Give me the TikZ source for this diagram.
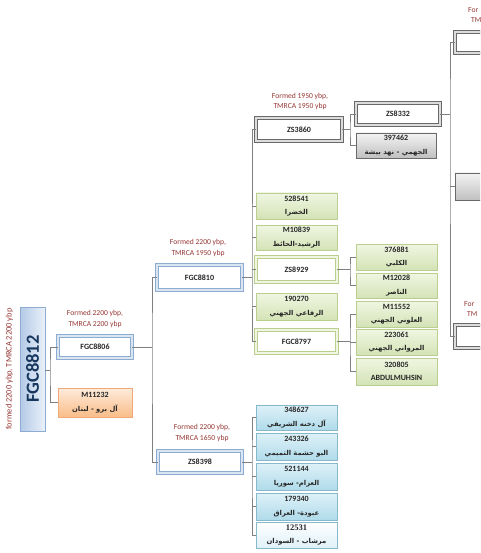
\documentclass[tikz,border=0pt]{standalone}
\usepackage{fontspec}
\setmainfont{Carlito}
\newfontfamily\arfont[Script=Arabic]{DejaVu Sans}
\newfontfamily\serifbf{Liberation Serif}
\TeXXeTstate=1
\usetikzlibrary{shadows}
\definecolor{lbl}{RGB}{150,55,52}
\definecolor{linegray}{RGB}{128,128,128}
\definecolor{greenA}{RGB}{240,246,226}
\definecolor{greenC}{RGB}{212,227,182}
\definecolor{greenB}{RGB}{186,206,144}
\definecolor{cyanA}{RGB}{222,241,248}
\definecolor{cyanC}{RGB}{176,219,234}
\definecolor{cyanB}{RGB}{135,185,205}
\definecolor{grayA}{RGB}{243,243,243}
\definecolor{grayC}{RGB}{192,192,192}
\definecolor{grayB}{RGB}{105,105,105}
\definecolor{orA}{RGB}{253,236,220}
\definecolor{orC}{RGB}{250,188,136}
\definecolor{orB}{RGB}{240,168,118}
\definecolor{dbB}{RGB}{140,172,210}
\definecolor{dbA}{RGB}{218,229,242}
\definecolor{rootA}{RGB}{180,202,230}
\definecolor{rootC}{RGB}{234,241,250}
\definecolor{navy}{RGB}{23,55,94}
\newcommand{\artxt}[1]{{\arfont\bfseries\fontsize{6.8}{7}\selectfont\beginR #1\endR}}
\tikzset{
  conn/.style={draw=linegray, line width=0.6pt},
  base/.style={inner sep=0pt, outer sep=0pt, align=center,
    font=\fontsize{8}{13.5}\selectfont\bfseries, text=black!85},
  shd/.style={drop shadow={opacity=0.25, shadow xshift=0.9pt, shadow yshift=-0.9pt}},
  gbox/.style={base, shd, draw=greenB, line width=0.7pt, top color=greenA, bottom color=greenC},
  cbox/.style={base, shd, draw=cyanB, line width=0.7pt, top color=cyanA, bottom color=cyanC},
  graybox/.style={base, shd, draw=grayB, line width=0.7pt, top color=grayA, bottom color=grayC},
  obox/.style={base, shd, draw=orB, line width=0.7pt, top color=orA, bottom color=orC},
  dbl/.style={base, shd, line width=1.1pt, double distance=1.4pt, fill=white},
  dgray/.style={dbl, draw=grayB, double=grayA!80!gray},
  dblue/.style={dbl, draw=dbB, double=dbA},
  dgreen/.style={dbl, draw=greenB, double=greenA},
  lab/.style={text=lbl, font=\fontsize{7.6}{10.5}\selectfont, align=center, inner sep=0pt},
  cw/.style={minimum width=81pt},
}
\begin{document}
\begin{tikzpicture}[x=1pt, y=-1pt]
\useasboundingbox (0,0) rectangle (480,553);
\clip (0,0) rectangle (480,553);
\fill[white] (0,0) rectangle (480,553);

% root
\node[base, shd, draw=dbB, line width=0.7pt, left color=rootA, right color=rootC,
  minimum width=25pt, minimum height=124pt] (root) at (32.5,369) {};
\node[rotate=90, text=navy, inner sep=0pt] (roottxt) at (root.center)
  {\fontsize{18.5}{18.5}\selectfont\bfseries FGC8812};
\node[lab, rotate=90, font=\fontsize{8.4}{9}\selectfont] (rootlab) at (9.5,369) {formed 2200 ybp, TMRCA 2200 ybp};

% level 1
\node[lab] (lab8806) at (95,319) {Formed 2200 ybp,\\TMRCA 2200 ybp};
\node[dblue, minimum width=74pt, minimum height=22pt] (f8806) at (95,347) {FGC8806};
\node[obox, minimum width=74pt, minimum height=29pt] (m11232) at (95,402.5) {M11232\\\artxt{آل برو - لبنان}};

% level 2
\node[lab] (lab8810) at (198,248) {Formed 2200 ybp,\\TMRCA 1950 ybp};
\node[dblue, minimum width=85pt, minimum height=25pt] (f8810) at (199.5,277.5) {FGC8810};
\node[lab] (lab8398) at (202,433) {Formed 2200 ybp,\\TMRCA 1650 ybp};
\node[dblue, minimum width=84pt, minimum height=22pt] (zs8398) at (200,462) {ZS8398};

% FGC8810 children
\node[lab] (lab3860) at (300,101.5) {Formed 1950 ybp,\\TMRCA 1950 ybp};
\node[dgray, minimum width=86pt, minimum height=23pt] (zs3860) at (299,129.5) {ZS3860};
\node[gbox, cw, minimum height=26pt] (n528541) at (296.5,206) {528541\\\artxt{الخضرا}};
\node[gbox, cw, minimum height=25pt] (m10839) at (296.5,237.5) {M10839\\\artxt{الرشيد-الحائط}};
\node[dgreen, cw, minimum height=25pt] (zs8929) at (296.5,269.5) {ZS8929};
\node[gbox, cw, minimum height=27pt] (n190270) at (296.5,306.5) {190270\\\artxt{الرفاعي الجهني}};
\node[dgreen, cw, minimum height=23pt] (fgc8797) at (296.5,341.5) {FGC8797};

% ZS3860 children
\node[dgray, minimum width=84pt, minimum height=22pt] (zs8332) at (398,114) {ZS8332};
\node[graybox, minimum width=80pt, minimum height=25pt] (n397462) at (396,145.5) {397462\\\artxt{الجهمي - نهد بيشة}};

% ZS8332 children (cut off at right)
\node[lab, anchor=west] (labr1a) at (468,10) {For};
\node[lab, anchor=west] (labr1b) at (471,20.5) {TM};
\node[dgray, minimum width=100pt, minimum height=21pt] (r1) at (505,42.5) {};
\node[graybox, minimum width=100pt, minimum height=27pt] (r2) at (505,186.5) {};
\node[lab, anchor=west] (labr3a) at (464,304) {For};
\node[lab, anchor=west] (labr3b) at (467,314.5) {TM};
\node[dgray, minimum width=100pt, minimum height=23pt] (r3) at (505,336.5) {};

% ZS8929 / FGC8797 children
\node[gbox, cw, minimum height=26pt] (n376881) at (396.5,257) {376881\\\artxt{الكلبي}};
\node[gbox, cw, minimum height=25pt] (m12028) at (396.5,285.5) {M12028\\\artxt{الناصر}};
\node[gbox, cw, minimum height=26pt] (m11552) at (396.5,314) {M11552\\\artxt{العلوني الجهني}};
\node[gbox, cw, minimum height=26pt] (n223061) at (396.5,342) {223061\\\artxt{المرواني الجهني}};
\node[gbox, cw, minimum height=27pt] (n320805) at (396.5,371.5) {320805\\ABDULMUHSIN};

% ZS8398 children
\node[cbox, cw, minimum height=25pt] (n348627) at (296.5,417.5) {348627\\\artxt{آل دخنه الشريفي}};
\node[cbox, cw, minimum height=27pt] (n243326) at (296.5,446.5) {243326\\\artxt{البو حشمة التميمي}};
\node[cbox, cw, minimum height=27pt] (n521144) at (296.5,476.5) {521144\\\artxt{العزام- سوريا}};
\node[cbox, cw, minimum height=27pt] (n179340) at (296.5,506.5) {179340\\\artxt{عبودة- العراق}};
\node[base, shd, draw=cyanB, line width=0.7pt, top color=white, bottom color=cyanA, cw, minimum height=26pt] (n12531) at (296.5,535) {{\serifbf\fontsize{8.5}{8}\selectfont 12531}\\\artxt{مرشاب - السودان}};

% connectors
\coordinate (e1) at (50,370);
\draw[conn] (root.east |- e1) -- (e1);
\draw[conn] (f8806.west) -| (e1) |- (m11232.west);

\coordinate (e2) at (152,347);
\draw[conn] (f8806.east) -- (e2);
\draw[conn] (f8810.west) -| (e2) |- (zs8398.west);

\coordinate (e3) at (252,277.5);
\draw[conn] (f8810.east) -- (e3);
\draw[conn] (zs3860.west) -| (e3) |- (fgc8797.west);
\foreach \n in {n528541, m10839, zs8929, n190270}
  \draw[conn] (\n.west) -- (\n.west -| e3);

\coordinate (e4) at (350,129.5);
\draw[conn] (zs3860.east) -- (e4);
\draw[conn] (zs8332.west) -| (e4) |- (n397462.west);

\coordinate (e5) at (450,114);
\draw[conn] (zs8332.east) -- (e5);
\draw[conn] (r1.west) -| (e5) |- (r3.west);
\draw[conn] (r2.west) -- (r2.west -| e5);

\coordinate (e6) at (350,269.5);
\draw[conn] (zs8929.east) -- (e6);
\draw[conn] (n376881.west) -| (e6) |- (m12028.west);

\coordinate (e7) at (350,341.5);
\draw[conn] (fgc8797.east) -- (e7);
\draw[conn] (m11552.west) -| (e7) |- (n320805.west);
\draw[conn] (n223061.west) -- (n223061.west -| e7);

\coordinate (e8) at (252,462);
\draw[conn] (zs8398.east) -- (e8);
\draw[conn] (n348627.west) -| (e8) |- (n12531.west);
\foreach \n in {n243326, n521144, n179340}
  \draw[conn] (\n.west) -- (\n.west -| e8);
\end{tikzpicture}
\end{document}
